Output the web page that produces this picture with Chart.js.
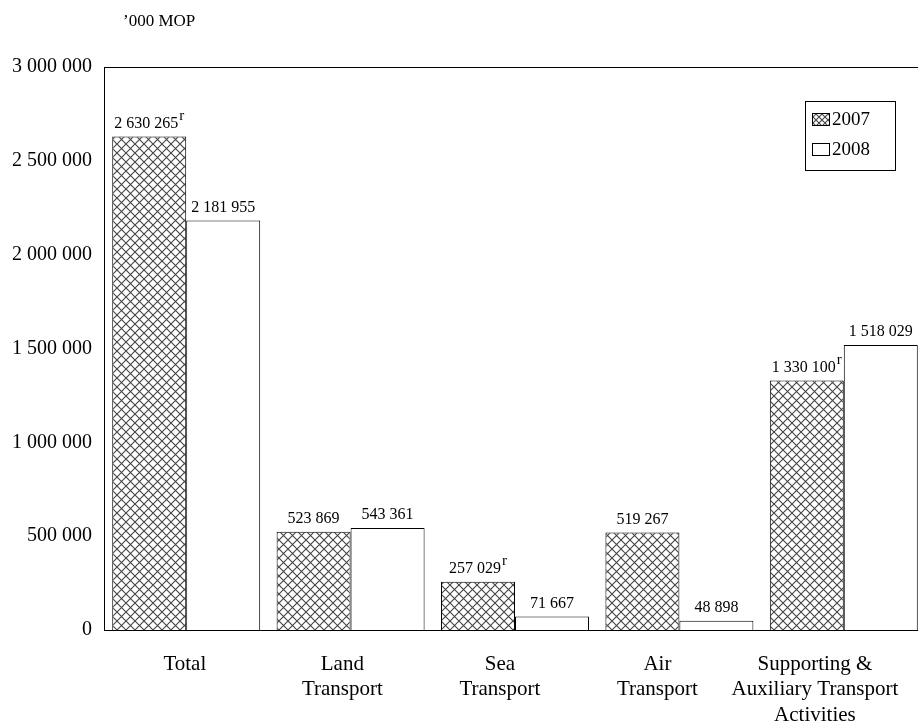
<!DOCTYPE html>
<html>
<head>
<meta charset="utf-8">
<script src="https://cdn.jsdelivr.net/npm/chart.js@4"></script>
<style>
  html, body { margin: 0; padding: 0; background: #fff; overflow: hidden; }
  #wrap { width: 930px; height: 727px; }
</style>
</head>
<body>
<div id="wrap"><canvas id="grafico"></canvas></div>
<script>
const categorias = [["Total"], ["Land", "Transport"], ["Sea", "Transport"], ["Air", "Transport"], ["Supporting &", "Auxiliary Transport", "Activities"]];
const valores2007 = [2630265, 523869, 257029, 519267, 1330100];
const valores2008 = [2181955, 543361, 71667, 48898, 1518029];
const revisados2007 = [true, false, true, false, true];
const revisados2008 = [false, false, false, false, false];
const serieNombres = ["2007", "2008"];
const unidad = "\u2019000 MOP";

const FUENTE = "'Liberation Serif', 'Times New Roman', serif";

// trama cruzada para 2007
function crearTrama(t) {
  const c = document.createElement('canvas');
  c.width = t; c.height = t;
  const g = c.getContext('2d');
  g.fillStyle = '#fff';
  g.fillRect(0, 0, t, t);
  g.strokeStyle = '#444';
  g.lineWidth = 1.1;
  g.beginPath();
  g.moveTo(0, 0); g.lineTo(t, t);
  g.moveTo(t, 0); g.lineTo(0, t);
  g.stroke();
  return g.createPattern(c, 'repeat');
}

function formatear(n) {
  return String(n).replace(/\B(?=(\d{3})+(?!\d))/g, ' ');
}

const etiquetas = {
  id: 'etiquetas',
  afterDatasetsDraw(chart) {
    const ctx = chart.ctx;
    const revisados = [revisados2007, revisados2008];
    ctx.save();
    ctx.fillStyle = '#000';
    ctx.textAlign = 'left';
    ctx.textBaseline = 'bottom';
    chart.data.datasets.forEach((ds, i) => {
      chart.getDatasetMeta(i).data.forEach((bar, j) => {
        const txt = formatear(ds.data[j]);
        ctx.font = '16px ' + FUENTE;
        const w = ctx.measureText(txt).width;
        const extra = revisados[i][j] ? 6 : 0;
        const x0 = bar.x - (w + extra) / 2;
        ctx.fillText(txt, x0, bar.y - 5);
        if (revisados[i][j]) {
          ctx.font = '15px ' + FUENTE;
          ctx.fillText('r', x0 + w + 1, bar.y - 13);
        }
      });
    });
    ctx.restore();
  }
};

const marco = {
  id: 'marco',
  afterDraw(chart) {
    const a = chart.chartArea;
    const ctx = chart.ctx;
    ctx.save();
    ctx.strokeStyle = '#000';
    ctx.lineWidth = 1;
    ctx.strokeRect(a.left + 0.5, a.top + 0.5, a.right - a.left - 1, a.bottom - a.top);

    // titulo de unidades
    ctx.fillStyle = '#000';
    ctx.font = '17px ' + FUENTE;
    ctx.textAlign = 'left';
    ctx.textBaseline = 'middle';
    ctx.fillText(unidad, a.left + 19, 22);

    // leyenda
    const lx = a.right - 121, ly = a.top + 34, lw = 90, lh = 69;
    ctx.strokeRect(lx + 0.5, ly + 0.5, lw, lh);
    ctx.font = '19px ' + FUENTE;
    const swatches = [crearTrama(6), '#fff'];
    chart.data.datasets.forEach((ds, i) => {
      const y = ly + 18 + i * 30;
      ctx.fillStyle = swatches[i];
      ctx.fillRect(lx + 7, y - 6, 17, 12);
      ctx.strokeRect(lx + 7.5, y - 5.5, 17, 12);
      ctx.fillStyle = '#000';
      ctx.fillText(ds.label, lx + 27, y + 1);
    });
    ctx.restore();
  }
};

new Chart(document.getElementById('grafico'), {
  type: 'bar',
  data: {
    labels: categorias,
    datasets: [
      { label: serieNombres[0], data: valores2007, backgroundColor: crearTrama(9), borderColor: '#000', borderWidth: 1 },
      { label: serieNombres[1], data: valores2008, backgroundColor: '#fff', borderColor: '#000', borderWidth: 1 }
    ]
  },
  options: {
    responsive: true,
    maintainAspectRatio: false,
    animation: false,
    layout: { padding: { left: 0, top: 67, right: 4, bottom: 0 } },
    plugins: {
      legend: { display: false },
      tooltip: { enabled: false }
    },
    datasets: { bar: { categoryPercentage: 0.9, barPercentage: 1 } },
    scales: {
      x: {
        display: false
      },
      // eje solo para los rotulos, desplazados como en el original
      rotulos: {
        type: 'linear',
        position: 'bottom',
        offset: false,
        min: -0.513,
        max: 4.705,
        grid: { display: false, drawTicks: false, offset: false },
        border: { display: false },
        afterBuildTicks: s => { s.ticks = categorias.map((c, i) => ({ value: i })); },
        ticks: { color: '#000', font: { family: FUENTE, size: 21 }, padding: 22, maxRotation: 0, autoSkip: false, callback: v => categorias[v] },
        afterFit: s => { s.height = 97; s.paddingLeft = 0; s.paddingRight = 0; }
      },
      y: {
        min: 0,
        max: 3000000,
        grid: { display: false, drawTicks: false },
        border: { display: true, color: '#000' },
        ticks: { stepSize: 500000, color: '#000', font: { family: FUENTE, size: 20 }, padding: 12, callback: v => formatear(v) },
        afterFit: s => { s.width = 104; s.paddingTop = 0; s.paddingBottom = 0; }
      }
    }
  },
  plugins: [etiquetas, marco]
});
</script>
</body>
</html>
